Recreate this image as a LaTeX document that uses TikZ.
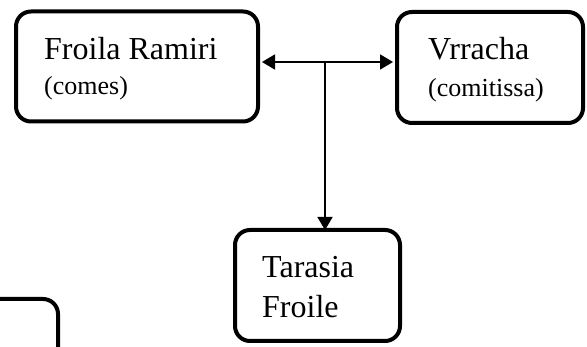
\documentclass[tikz,border=0pt]{standalone}
\usepackage{fontspec}
\setmainfont{Liberation Serif}
\usetikzlibrary{arrows.meta}
\begin{document}
\begin{tikzpicture}[x=1pt,y=-1pt,
  box/.style={draw=black,line width=4pt,rounded corners=15pt,rectangle,inner sep=0pt},
  bigtxt/.style={anchor=base west,inner sep=0pt,font=\fontsize{32}{36}\selectfont},
  smalltxt/.style={anchor=base west,inner sep=0pt,font=\fontsize{26}{30}\selectfont},
  conn/.style={line width=1.8pt,draw=black},
  tip/.style={-{Triangle[length=13pt,width=15pt]}}]
\useasboundingbox (0,0) rectangle (587,347);
\clip (0,0) rectangle (587,347);
\node[box,minimum width=242pt,minimum height=110pt] (froila) at (137,66.5) {};
\node[box,minimum width=186pt,minimum height=111pt] (vrracha) at (490,67.5) {};
\node[box,minimum width=165pt,minimum height=111pt] (tarasia) at (317.5,285.5) {};
\node[box,minimum width=200pt,minimum height=120pt] (other) at (-42,359) {};
\node[bigtxt] (t1) at (44,59.3) {Froila Ramiri};
\node[smalltxt] (t1b) at (44,95) {(comes)};
\node[bigtxt] (t2) at (428,60) {Vrracha};
\node[smalltxt] (t2b) at (428,97) {(comitissa)};
\node[bigtxt] (t3) at (262,278) {Tarasia};
\node[bigtxt] (t3b) at (262,318) {Froile};
\coordinate (j) at (325,62);
\draw[conn,tip] (j) -- ([xshift=2pt]froila.east |- j);
\draw[conn,tip] (j) -- ([xshift=-2pt]vrracha.west |- j);
\draw[conn,tip] (j) -- ([yshift=-2pt]j |- tarasia.north);
\end{tikzpicture}
\end{document}
